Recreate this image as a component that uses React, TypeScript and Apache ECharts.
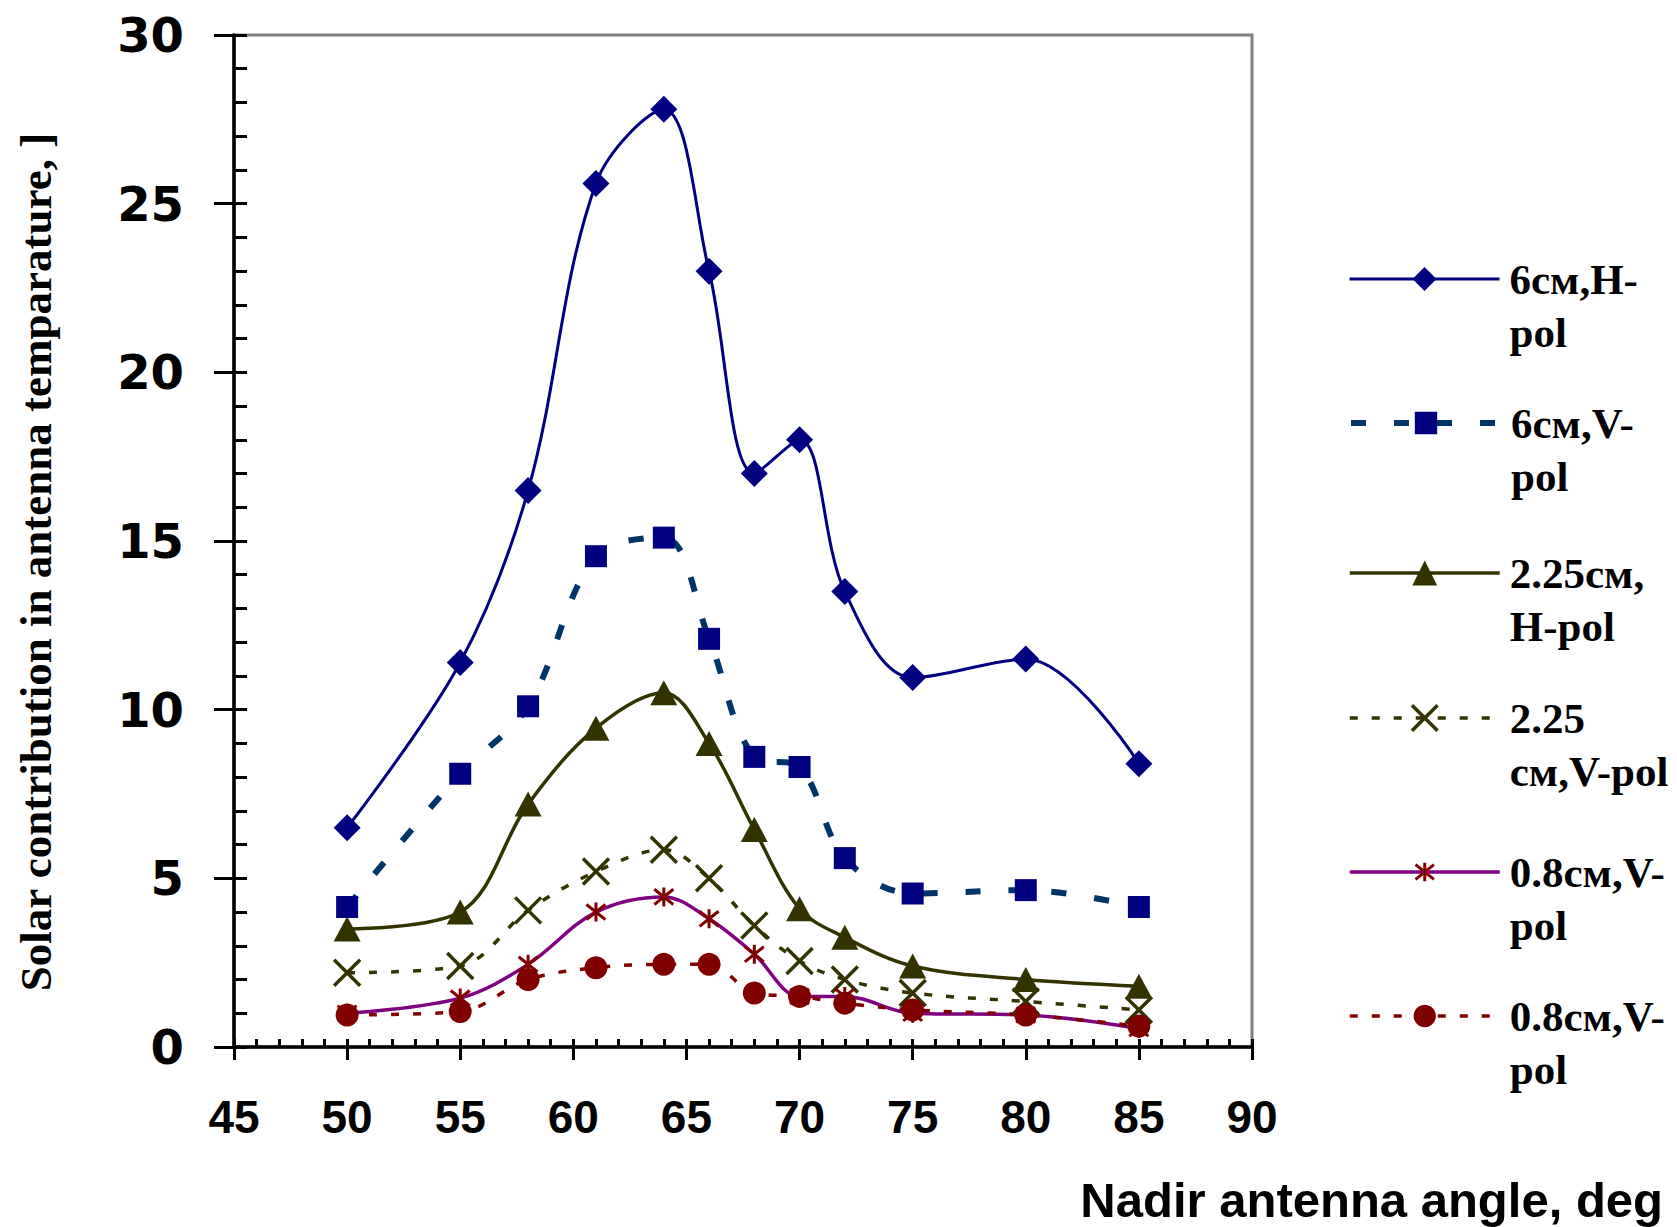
import React, { useEffect, useRef } from 'react';
import * as echarts from 'echarts';

// Nadir antenna angle, deg
const angles = [50, 55, 58, 61, 64, 66, 68, 70, 72, 75, 80, 85];
// Solar contribution in antenna temperature
const h6cm = [6.5, 11.4, 16.5, 25.6, 27.8, 23.0, 17.0, 18.0, 13.5, 10.95, 11.5, 8.4];
const v6cm = [4.15, 8.1, 10.1, 14.55, 15.1, 12.1, 8.6, 8.3, 5.6, 4.55, 4.65, 4.15];
const h225cm = [3.5, 4.0, 7.2, 9.45, 10.5, 9.0, 6.45, 4.1, 3.25, 2.4, 2.0, 1.8];
const v225cm = [2.2, 2.4, 4.05, 5.2, 5.85, 5.0, 3.6, 2.55, 2.0, 1.6, 1.35, 1.1];
const v08cmA = [1.0, 1.45, 2.45, 4.0, 4.45, 3.8, 2.75, 1.5, 1.5, 1.0, 0.95, 0.55];
const v08cmB = [0.95, 1.05, 2.0, 2.35, 2.45, 2.45, 1.6, 1.5, 1.3, 1.1, 0.95, 0.62];

const seriesKeys = ['s1', 's2', 's3', 's4', 's5', 's6'];
const legendLabels = [
  '6см,H-\npol',
  '6см,V-\npol',
  '2.25см,\nH-pol',
  '2.25\nсм,V-pol',
  '0.8см,V-\npol',
  '0.8см,V-\npol',
];
const xMin = 45;
const xMax = 90;
const xStep = 5;
const yMin = 0;
const yMax = 30;
const yStep = 5;
const xTitle = 'Nadir antenna angle, deg';
const yTitle = 'Solar contribution in antenna temparature, ]';

const X_SYMBOL = 'path://M0,0L10,10M10,0L0,10';
const STAR_SYMBOL = 'path://M5,0L5,10M1,1L9,9M9,1L1,9';

function pairs(ys: number[]) {
  return angles.map((x, i) => [x, ys[i]]);
}

export default function App() {
  const ref = useRef<HTMLDivElement>(null);

  useEffect(() => {
    if (!ref.current) return;
    const chart = echarts.init(ref.current, undefined, { renderer: 'svg' });

    const styles = [
      { data: h6cm, symbol: 'diamond', size: 27, line: '#000080', width: 3, dash: 'solid', fill: '#000080', border: 0, lh: 30 },
      { data: v6cm, symbol: 'rect', size: 22, line: '#003366', width: 6, dash: [15, 28], fill: '#000080', border: 0, lh: 28 },
      { data: h225cm, symbol: 'triangle', size: [27, 25], line: '#333300', width: 3.5, dash: 'solid', fill: '#333300', border: 0, lh: 31 },
      { data: v225cm, symbol: X_SYMBOL, size: 26, line: '#333300', width: 3.5, dash: [8, 14], fill: '#333300', border: 3.5, lh: 32 },
      { data: v08cmA, symbol: STAR_SYMBOL, size: 19, line: '#800080', width: 3.5, dash: 'solid', fill: '#800000', border: 3, lh: 23 },
      { data: v08cmB, symbol: 'circle', size: 23, line: '#800000', width: 3.5, dash: [8, 14], fill: '#800000', border: 0, lh: 28 },
    ];

    const iconCenters = [279, 423, 573, 718, 872, 1016];
    const legendLineHeight = 53;

    const series = styles.map((s, i) => ({
      name: seriesKeys[i],
      type: 'line',
      xAxisIndex: 0,
      yAxisIndex: 0,
      data: pairs(s.data),
      smooth: 0.35,
      symbol: s.symbol,
      symbolSize: s.size,
      showSymbol: true,
      showAllSymbol: true,
      lineStyle: { color: s.line, width: s.width, type: s.dash },
      itemStyle: { color: s.fill, borderColor: s.fill, borderWidth: s.border },
      emphasis: { disabled: true },
    }));

    const legends = styles.map((s, i) => ({
      data: [seriesKeys[i]],
      left: 1348,
      top: iconCenters[i] - 1.5 * legendLineHeight,
      orient: 'vertical',
      padding: 0,
      itemWidth: 150,
      itemHeight: s.lh,
      selectedMode: false,
      // leading blank line keeps the first label line level with the icon
      formatter: () => ' \n' + legendLabels[i],
      lineStyle: { color: s.line, width: s.width, type: s.dash },
      itemStyle: { color: s.fill, borderColor: s.fill, borderWidth: s.border },
      textStyle: {
        fontFamily: '"Liberation Serif", "Times New Roman", serif',
        fontWeight: 'bold',
        fontSize: 43,
        lineHeight: legendLineHeight,
        color: '#000',
        padding: [0, 0, 0, 5],
      },
    }));

    chart.setOption({
      animation: false,
      backgroundColor: '#fff',
      grid: {
        left: 234,
        right: 425,
        top: 35,
        bottom: 180,
        show: true,
        borderColor: '#808080',
        borderWidth: 3,
        backgroundColor: 'transparent',
      },
      xAxis: [
        {
          type: 'value',
          position: 'bottom',
          min: xMin,
          max: xMax,
          interval: xStep,
          axisLine: { show: true, onZero: false, lineStyle: { color: '#000', width: 3.5 } },
          axisTick: { show: true, inside: false, length: 13, lineStyle: { color: '#000', width: 3 } },
          axisLabel: {
            margin: 47,
            color: '#000',
            fontFamily: '"Liberation Sans", Arial, sans-serif',
            fontWeight: 'bold',
            fontSize: 46,
          },
          splitLine: { show: false },
        },
        {
          type: 'value',
          position: 'bottom',
          min: xMin,
          max: xMax,
          interval: 1,
          axisLine: { show: false, onZero: false },
          axisTick: { show: true, inside: true, length: 8, lineStyle: { color: '#000', width: 3 } },
          axisLabel: { show: false },
          splitLine: { show: false },
        },
      ],
      yAxis: [
        {
          type: 'value',
          position: 'left',
          min: yMin,
          max: yMax,
          interval: yStep,
          name: yTitle,
          nameLocation: 'middle',
          nameGap: 176,
          nameRotate: 90,
          nameTextStyle: {
            fontFamily: '"Liberation Serif", "Times New Roman", serif',
            fontWeight: 'bold',
            fontSize: 45,
            color: '#000',
            padding: [0, 42, 0, 0],
          },
          axisLine: { show: true, onZero: false, lineStyle: { color: '#000', width: 3.5 } },
          axisTick: { show: true, inside: false, length: 20, lineStyle: { color: '#000', width: 3 } },
          axisLabel: {
            margin: 50,
            color: '#000',
            fontFamily: '"DejaVu Sans", sans-serif',
            fontWeight: 'bold',
            fontSize: 48,
          },
          splitLine: { show: false },
        },
        {
          type: 'value',
          position: 'left',
          min: yMin,
          max: yMax,
          interval: 1,
          axisLine: { show: false, onZero: false },
          axisTick: { show: true, inside: true, length: 13, lineStyle: { color: '#000', width: 3 } },
          axisLabel: { show: false },
          splitLine: { show: false },
        },
      ],
      legend: legends,
      graphic: [
        {
          type: 'text',
          x: 1663,
          y: 1200,
          style: {
            text: xTitle,
            fill: '#000',
            fontFamily: '"Liberation Sans", Arial, sans-serif',
            fontWeight: 'bold',
            fontSize: 49,
            align: 'right',
            verticalAlign: 'middle',
          },
        },
      ],
      series,
    });

    return () => {
      chart.dispose();
    };
  }, []);

  return (
    <div
      ref={ref}
      style={{ position: 'absolute', left: 0, top: 0, width: 1677, height: 1227, background: '#fff' }}
    />
  );
}
